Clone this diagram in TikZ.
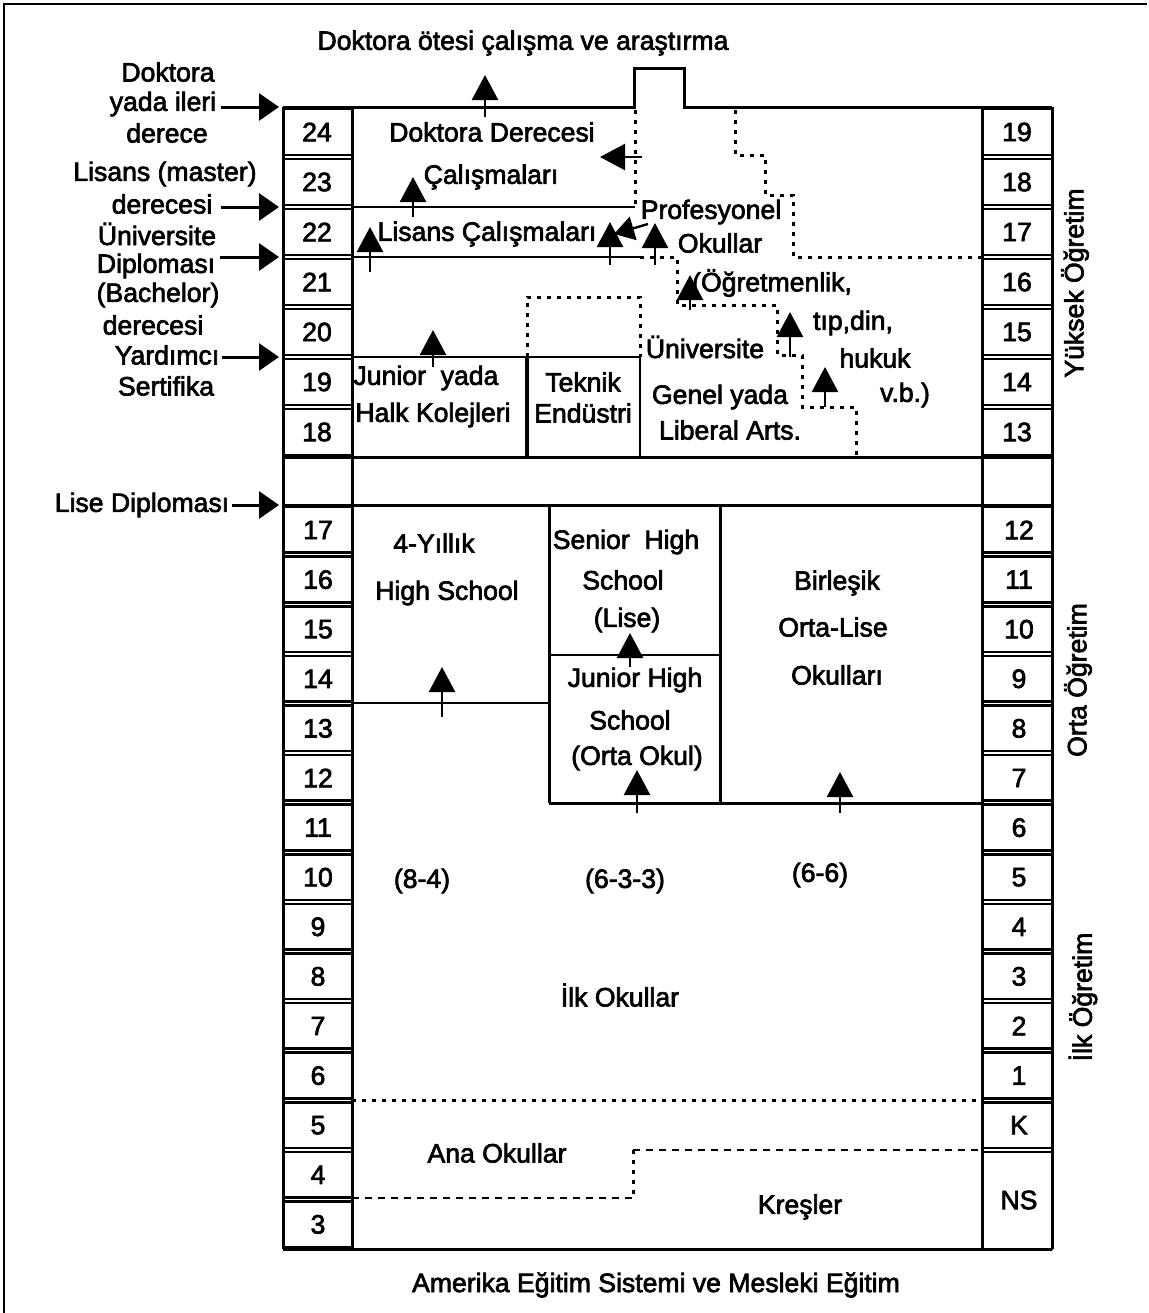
\documentclass[tikz,border=0pt]{standalone}
\usepackage{fontspec}
\setmainfont{Liberation Sans}[FakeBold=2.5]
\usetikzlibrary{arrows.meta}
\newcommand{\fs}{\fontsize{13.3}{16}\selectfont}
\begin{document}
\begin{tikzpicture}[x=0.5pt,y=-0.5pt,
  lbl/.style={inner sep=0pt, font=\fs},
  numbox/.style={draw, line width=1.3pt},
  frameline/.style={line width=1.5pt},
  thinline/.style={line width=1.1pt},
  dotline/.style={line width=1.5pt, dash pattern=on 2pt off 3pt},
  dashline/.style={line width=1.3pt, dash pattern=on 3.5pt off 3pt},
  tree/.style={line width=1.2pt, -{Triangle[length=12.5pt,width=13pt]}},
  sidearrow/.style={line width=1.5pt, -{Triangle[length=10pt,width=13.5pt]}}]
\useasboundingbox (0,0) rectangle (1149,1313);
% page frame
\draw[line width=1.2pt] (4,1313) -- (4,4) -- (1147,4);

% ---- left number column ----
\foreach \lab [count=\k from 0] in {24,23,22,21,20,19,18}{
  \draw[numbox] (283,107+50*\k+2) rectangle (352,157+50*\k-2);
  \node[lbl] (L\lab u) at (317,132+50*\k) {\lab};
}
\foreach \lab [count=\k from 0] in {17,16,15,14,13,12,11,10,9,8,7,6,5,4,3}{
  \draw[numbox] (283,505+49.6*\k+2) rectangle (352,554.6+49.6*\k-2);
  \node[lbl] (L\lab l) at (318,530+49.6*\k) {\lab};
}
% ---- right number column ----
\foreach \lab [count=\k from 0] in {19,18,17,16,15,14,13}{
  \draw[numbox] (982,107+50*\k+2) rectangle (1052,157+50*\k-2);
  \node[lbl] (R\lab u) at (1017,132+50*\k) {\lab};
}
\foreach \lab [count=\k from 0] in {12,11,10,9,8,7,6,5,4,3,2,1,K}{
  \draw[numbox] (982,505+49.6*\k+2) rectangle (1052,554.6+49.6*\k-2);
  \node[lbl] (R\lab l) at (1019,530+49.6*\k) {\lab};
}
\draw[numbox] (982,1149.8+2) rectangle (1052,1249);
\node[lbl] (RNS) at (1019,1200) {NS};

% ---- main frame ----
\draw[frameline] (283,107) -- (634,107) -- (634,68) -- (684,68) -- (684,107) -- (1052,107);
\draw[frameline] (283,457) rectangle (1052,505);
\draw[frameline] (352,107) -- (352,1249);
\draw[frameline] (982,107) -- (982,1249);
\draw[frameline] (283,1249) -- (1052,1249);
\draw[frameline] (283,107) -- (283,1249);
\draw[frameline] (1052,107) -- (1052,1249);

% upper inner lines
\draw[thinline] (352,207) -- (635,207);
\draw[thinline] (352,257) -- (640,257);
\draw[thinline] (352,357) -- (640,357);
\draw[line width=2pt] (527,357) -- (527,457);
\draw[thinline] (640,357) -- (640,457);
\draw[dotline] (527,357) -- (527,297) -- (640,297) -- (640,357);
% professional schools boundaries
\draw[dotline] (635,110) -- (635,207);
\draw[dotline] (640,257) -- (677,257) -- (677,305) -- (777,305) -- (777,355) -- (802,355) -- (802,407) -- (856,407) -- (856,457);
\draw[dotline] (735,110) -- (735,155) -- (765,155) -- (765,195) -- (793,195) -- (793,257) -- (982,257);

% lower inner lines
\draw[thinline] (352,703) -- (549,703);
\draw[frameline] (549,505) -- (549,803);
\draw[frameline] (720,505) -- (720,803);
\draw[thinline] (549,655) -- (720,655);
\draw[frameline] (549,803) -- (982,803);
\draw[dotline] (352,1100) -- (982,1100);
\draw[dashline] (633,1150) -- (982,1150);
\draw[dotline] (633,1150) -- (633,1198);
\draw[dashline] (352,1198) -- (633,1198);

% ---- texts ----
\node[lbl] (top) at (523,43) {Doktora ötesi çalışma ve araştırma};
\node[lbl] (d1) at (168,72) {Doktora};
\node[lbl] (d2) at (163,104) {yada ileri};
\node[lbl] (d3) at (167,133) {derece};
\node[lbl] (m1) at (165,174) {Lisans (master)};
\node[lbl] (m2) at (162,204) {derecesi};
\node[lbl] (u1) at (157,234) {Üniversite};
\node[lbl] (u2) at (156,266) {Diploması};
\node[lbl] (u3) at (158,295) {(Bachelor)};
\node[lbl] (u4) at (153,325) {derecesi};
\node[lbl] (y1) at (167,355) {Yardımcı};
\node[lbl] (y2) at (166,386) {Sertifika};
\node[lbl] (l1) at (142,505) {Lise Diploması};

\node[lbl] (t1) at (492,132) {Doktora Derecesi};
\node[lbl] (t2) at (491,177) {Çalışmaları};
\node[lbl] (t3) at (487,234) {Lisans Çalışmaları};
\node[lbl] (p1) at (711,212) {Profesyonel};
\node[lbl] (p2) at (720,243) {Okullar};
\node[lbl] (p3) at (772,283) {(Öğretmenlik,};
\node[lbl] (p4) at (853,323) {tıp,din,};
\node[lbl] (p5) at (875,358) {hukuk};
\node[lbl] (p6) at (905,395) {v.b.)};
\node[lbl] (un1) at (705,347) {Üniversite};
\node[lbl] (un2) at (720,397) {Genel yada};
\node[lbl] (un3) at (730,430) {Liberal Arts.};
\node[lbl] (tk1) at (583,382) {Teknik};
\node[lbl] (tk2) at (583,413) {Endüstri};
\node[lbl] (j1) at (426,378) {Junior\ \ yada};
\node[lbl] (j2) at (433,415) {Halk Kolejleri};

\node[lbl] (h1) at (434,543) {4-Yıllık};
\node[lbl] (h2) at (447,593) {High School};
\node[lbl] (s1) at (626,542) {Senior\ \ High};
\node[lbl] (s2) at (623,580) {School};
\node[lbl] (s3) at (627,620) {(Lise)};
\node[lbl] (jh1) at (635,680) {Junior High};
\node[lbl] (jh2) at (630,720) {School};
\node[lbl] (jh3) at (637,758) {(Orta Okul)};
\node[lbl] (b1) at (837,583) {Birleşik};
\node[lbl] (b2) at (833,627) {Orta-Lise};
\node[lbl] (b3) at (837,675) {Okulları};
\node[lbl] (r1) at (422,881) {(8-4)};
\node[lbl] (r2) at (625,881) {(6-3-3)};
\node[lbl] (r3) at (820,875) {(6-6)};
\node[lbl] (ilk) at (620,995) {İlk Okullar};
\node[lbl] (ana) at (497,1153) {Ana Okullar};
\node[lbl] (kres) at (800,1207) {Kreşler};
\node[lbl] (title) at (656,1285) {Amerika Eğitim Sistemi ve Mesleki Eğitim};

\node[lbl, rotate=90] (vy) at (1075,283) {Yüksek Öğretim};
\node[lbl, rotate=90] (vo) at (1078,680) {Orta Öğretim};
\node[lbl, rotate=90] (vi) at (1083,997) {İlk Öğretim};

% ---- side arrows ----
\coordinate (sa1) at (279,107);
\coordinate (sa2) at (279,207);
\coordinate (sa3) at (279,257);
\coordinate (sa4) at (279,357);
\coordinate (sa5) at (279,505);
\draw[sidearrow] ([xshift=2pt]d2.east |- sa1) -- (sa1);
\draw[sidearrow] ([xshift=4pt]m2.east |- sa2) -- (sa2);
\draw[sidearrow] ([xshift=0pt]u3.east |- sa3) -- (sa3);
\draw[sidearrow] ([xshift=1pt]y1.east |- sa4) -- (sa4);
\draw[sidearrow] ([xshift=1pt]l1.east |- sa5) -- (sa5);

% ---- tree arrows ----
\foreach \nm/\xa/\ya/\xb/\yb in {
  a1/485/117/485/75, a2/413/217/413/177, a3/370/272/370/227,
  a4/610/265/610/222, a6/655/265/655/223, a7/642/157/600/157,
  a8/690/310/690/275, a9/790/357/790/312, a10/825/407/825/367,
  a11/433/367/433/330, a12/442/717/442/667, a13/630/667/630/633,
  a14/637/813/637/770, a15/840/813/840/772}{
  \coordinate (\nm s) at (\xa,\ya);
  \coordinate (\nm e) at (\xb,\yb);
  \draw[tree] (\nm s) -- (\nm e);
}
\coordinate (a5s) at (648,224);
\coordinate (a5e) at (614,234);
\draw[line width=1.2pt, -{Triangle[length=10pt,width=12pt]}] (a5s) -- (a5e);
\end{tikzpicture}
\end{document}
